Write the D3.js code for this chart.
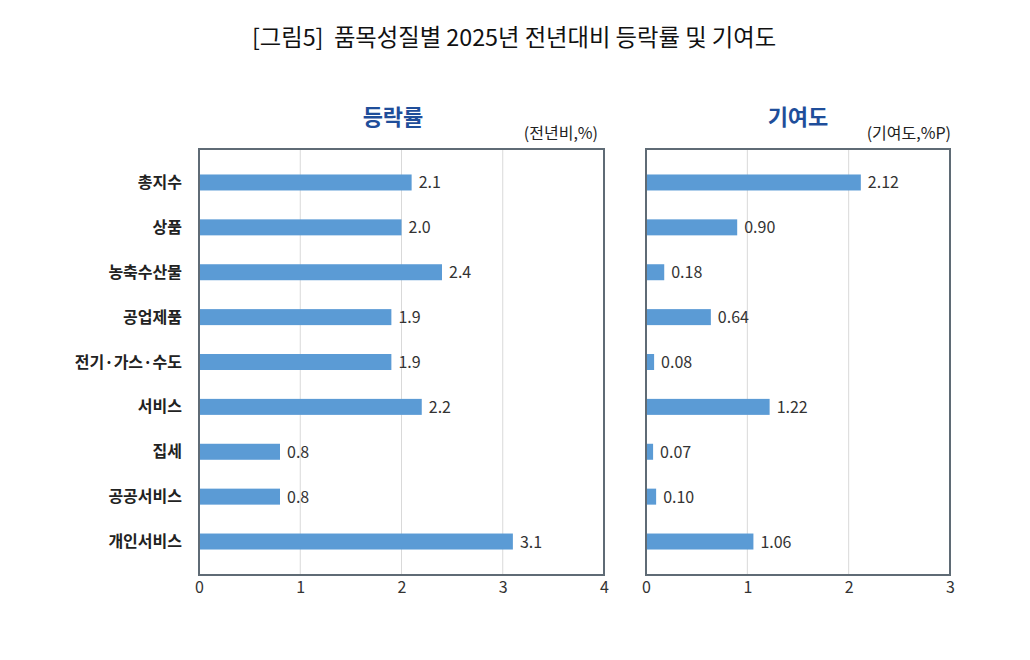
<!DOCTYPE html>
<html><head><meta charset="utf-8">
<script src="https://cdn.jsdelivr.net/npm/d3@7"></script>
<style>
body{margin:0;background:#fff;}
text{font-family:"Noto Sans CJK KR","Noto Sans",sans-serif;}
</style></head>
<body><svg id="c" width="1030" height="660"></svg>
<script>
const categories = ["총지수","상품","농축수산물","공업제품","전기·가스·수도","서비스","집세","공공서비스","개인서비스"];
const changeRate = [2.1, 2.0, 2.4, 1.9, 1.9, 2.2, 0.8, 0.8, 3.1];
const contribution = [2.12, 0.90, 0.18, 0.64, 0.08, 1.22, 0.07, 0.10, 1.06];
const changeLabels = ["2.1","2.0","2.4","1.9","1.9","2.2","0.8","0.8","3.1"];
const contribLabels = ["2.12","0.90","0.18","0.64","0.08","1.22","0.07","0.10","1.06"];
const leftTicks = [0,1,2,3,4];
const rightTicks = [0,1,2,3];

const svg = d3.select("#c");
svg.append("rect").attr("width",1030).attr("height",660).attr("fill","#fff");

svg.append("text").attr("x",514).attr("y",46).attr("text-anchor","middle")
  .attr("font-size",23.3).attr("fill","#111").attr("font-weight",400)
  .style("white-space","pre")
  .text("[그림5]  품목성질별 2025년 전년대비 등락률 및 기여도");

const plotTop = 149, plotBottom = 575;
const y = d3.scalePoint().domain(categories).range([plotTop,plotBottom]).padding(0.746);
const barH = 16;

function panel(x0, x1, maxV, ticks, values, labels, title, titleX, unit, unitX) {
  const x = d3.scaleLinear().domain([0,maxV]).range([x0,x1]);
  const g = svg.append("g");
  g.selectAll("line.grid").data(ticks.slice(1,-1)).join("line")
    .attr("x1",d=>x(d)).attr("x2",d=>x(d)).attr("y1",plotTop).attr("y2",plotBottom)
    .attr("stroke","#d9d9d9").attr("stroke-width",1);
  g.selectAll("rect.bar").data(values).join("rect")
    .attr("x",x(0)).attr("y",(d,i)=>y(categories[i])-barH/2)
    .attr("width",d=>x(d)-x(0)).attr("height",barH).attr("fill","#5b9bd5");
  g.selectAll("text.val").data(values).join("text")
    .attr("x",d=>x(d)+7).attr("y",(d,i)=>y(categories[i])+6)
    .attr("font-size",16).attr("fill","#333").text((d,i)=>labels[i]);
  g.append("rect").attr("x",x0).attr("y",plotTop).attr("width",x1-x0).attr("height",plotBottom-plotTop)
    .attr("fill","none").attr("stroke","#5f6b75").attr("stroke-width",2);
  const ax = g.append("g").attr("transform",`translate(0,${plotBottom})`)
    .call(d3.axisBottom(x).tickValues(ticks).tickSize(0).tickPadding(7).tickFormat(d3.format("d")));
  ax.select(".domain").remove();
  ax.selectAll("text").attr("font-size",16).attr("fill","#333")
    .style("font-family","\"Noto Sans CJK KR\",sans-serif");
  g.append("text").attr("x",titleX).attr("y",125).attr("text-anchor","middle")
    .attr("font-size",22).attr("font-weight",700).attr("fill","#1f4e9a").text(title);
  g.append("text").attr("x",unitX).attr("y",139).attr("text-anchor","end")
    .attr("font-size",16).attr("fill","#222").text(unit);
}

panel(199, 604, 4, leftTicks, changeRate, changeLabels, "등락률", 393, "(전년비,%)", 598);
panel(646, 950, 3, rightTicks, contribution, contribLabels, "기여도", 798, "(기여도,%P)", 951);

svg.append("g").selectAll("text").data(categories).join("text")
  .attr("x",182).attr("y",d=>y(d)+5.5).attr("text-anchor","end")
  .attr("font-size",16).attr("font-weight",700).attr("fill","#222").text(d=>d);
</script></body></html>
